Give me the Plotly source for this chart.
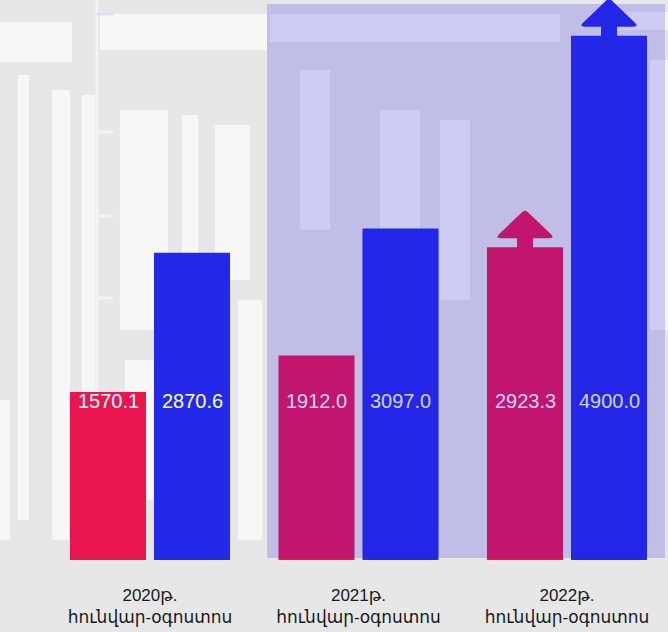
import plotly.graph_objects as go

# ---- data ----
categories = ["2020թ.<br>հունվար-օգոստոս", "2021թ.<br>հունվար-օգոստոս", "2022թ.<br>հունվար-օգոստոս"]
series_a = [1570.1, 1912.0, 2923.3]
series_b = [2870.6, 3097.0, 4900.0]
arrow_flags_a = [False, False, True]
arrow_flags_b = [False, False, True]
highlighted = [False, True, True]

W, H = 668, 632
PLOT_H = 560
RED = "#E91550"
BLUE = "#2229E8"

fig = go.Figure()
fig.add_trace(go.Bar(x=categories, y=series_a, marker_color=RED, marker_line_width=0,
                     hoverinfo="skip", showlegend=False))
fig.add_trace(go.Bar(x=categories, y=series_b, marker_color=BLUE, marker_line_width=0,
                     hoverinfo="skip", showlegend=False))

def px_rect(x0, y0, x1, y1):
    return dict(x0=x0 / W, x1=x1 / W, y0=(PLOT_H - y1) / PLOT_H, y1=(PLOT_H - y0) / PLOT_H)

shapes = []
# background texture (rough approximation)
white_blobs = [
    (0, 22, 72, 62), (100, 14, 267, 50), (270, 14, 560, 42), (600, 12, 668, 30),
    (18, 75, 29, 520), (52, 90, 70, 540), (82, 95, 95, 520), (120, 110, 168, 330),
    (182, 115, 198, 330), (215, 125, 250, 280), (125, 360, 160, 500),
    (300, 70, 330, 230), (380, 110, 420, 330), (440, 120, 470, 300),
    (600, 190, 640, 260), (0, 400, 10, 540), (238, 300, 262, 540),
    (650, 60, 668, 330),
]
for (a, b, c, d) in white_blobs:
    shapes.append(dict(type="rect", xref="paper", yref="paper", layer="below",
                       line_width=0, fillcolor="#f7f7f7", **px_rect(a, b, c, d)))
shapes.append(dict(type="line", xref="paper", yref="paper", layer="below",
                   line=dict(color="#f4f4f8", width=3), **px_rect(97, 0, 97, 560)))
for ty, tc in ((14, "#dde0ee"), (132, "#f2f2f6"), (216, "#f2f2f6"), (298, "#f2f2f6")):
    shapes.append(dict(type="line", xref="paper", yref="paper", layer="below",
                       line=dict(color=tc, width=3), **px_rect(97, ty, 113, ty)))

# arrows on top of flagged bars
slot = 42 / 208.5
arrow_path = ("M -8,-3 L -8,9 L -24,9 Q -30,9 -26,13 L -3,35 Q 0,38 3,35 "
              "L 26,13 Q 30,9 24,9 L 8,9 L 8,-3 Z")
for i, (fa, fb) in enumerate(zip(arrow_flags_a, arrow_flags_b)):
    for flag, val, off, col in ((fa, series_a[i], -slot, RED), (fb, series_b[i], slot, BLUE)):
        if flag:
            shapes.append(dict(type="path", xref="x", yref="y", xsizemode="pixel",
                               ysizemode="pixel", xanchor=i + off, yanchor=val,
                               path=arrow_path, fillcolor=col, line_width=0, layer="above"))

# translucent highlight panel over the last two groups
shapes.append(dict(type="rect", xref="paper", yref="paper", layer="above", line_width=0,
                   fillcolor="rgba(40,30,230,0.2)", **px_rect(267, 4, 665, 558)))

annotations = []
for i in range(len(categories)):
    col = "#d4d2fa" if highlighted[i] else "#ffffff"
    for val, off in ((series_a[i], -slot), (series_b[i], slot)):
        annotations.append(dict(x=i + off, xref="x", y=(PLOT_H - 414) / PLOT_H, yref="paper",
                                text=f"{val:.1f}", showarrow=False,
                                font=dict(family="Liberation Sans, Arial, sans-serif",
                                          size=20, color=col)))

px_per_cat = 208.5
x_start = -150 / px_per_cat
fig.update_layout(
    width=W, height=H,
    margin=dict(l=0, r=0, t=0, b=H - PLOT_H),
    paper_bgcolor="#e7e7e7", plot_bgcolor="rgba(0,0,0,0)",
    barmode="group", bargap=0.194, bargroupgap=0.095,
    shapes=shapes, annotations=annotations,
    xaxis=dict(range=[x_start, x_start + W / px_per_cat], showgrid=False, zeroline=False,
               showline=False, ticks="", ticklabelstandoff=23,
               tickfont=dict(family="Liberation Sans, DejaVu Sans, sans-serif", size=17,
                             color="#1a1a1a")),
    yaxis=dict(range=[0, PLOT_H / 0.107], visible=False, showgrid=False),
)

fig.write_html("out.html", config={"displayModeBar": False},
               post_script="document.body.style.margin='0';")
